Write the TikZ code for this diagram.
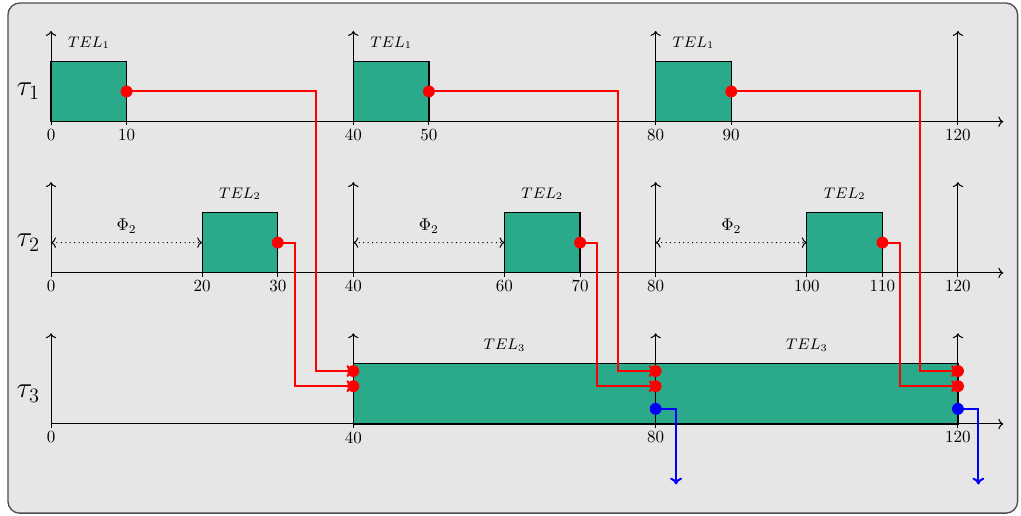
\documentclass[tikz,border=0pt]{standalone}
\usepackage{amsmath}
\usetikzlibrary{positioning, calc, arrows.meta}
\definecolor{bgFrame}{HTML}{E6E6E6}
\definecolor{borderFrame}{HTML}{4D4D4D}
\definecolor{bgTel}{HTML}{2AAA8A}
\definecolor{flowRed}{HTML}{FF0000}
\definecolor{flowBlue}{HTML}{0000FF}
\tikzset{
  frame/.style={draw=borderFrame, fill=bgFrame, rounded corners=7pt, line width=0.8pt},
  axis/.style={->, line width=0.6pt, color=black},
  telbox/.style={draw=black, fill=bgTel, line width=0.7pt, inner sep=0pt, outer sep=0pt,
    anchor=south west, minimum height=1.25cm},
  tellabel/.style={font=\small, inner sep=0pt},
  ticklabel/.style={font=\normalsize, below, inner sep=2pt},
  offset/.style={<->, dotted, line width=0.6pt},
  redflow/.style={-{To[length=4pt, width=7pt]}, line width=1.2pt, color=flowRed},
  blueflow/.style={-{To[length=4pt, width=7pt]}, line width=1.2pt, color=flowBlue},
  reddot/.style={circle, fill=flowRed, inner sep=0pt, minimum size=7pt},
  bluedot/.style={circle, fill=flowBlue, inner sep=0pt, minimum size=7pt},
  tasklabel/.style={font=\LARGE},
}

\begin{document}
\begin{tikzpicture}[x=0.1563cm, y=0.1563cm]

  % === Frame ===
  \useasboundingbox (-6.75,-12.17) rectangle (128.34,56.1);
  \draw[frame] (-5.7,-11.8) rectangle (127.9,55.7);

  % === Task tau_1 ===
  \node[tasklabel] (task1) at (-3,44) {$\tau_1$};
  \node[telbox, minimum width=1.563cm] (tel1a) at (0,40) {};
  \node[telbox, minimum width=1.563cm] (tel1b) at (40,40) {};
  \node[telbox, minimum width=1.563cm] (tel1c) at (80,40) {};
  \node[tellabel, above=2.5mm of tel1a.north] (lab1a) {$TEL_1$};
  \node[tellabel, above=2.5mm of tel1b.north] (lab1b) {$TEL_1$};
  \node[tellabel, above=2.5mm of tel1c.north] (lab1c) {$TEL_1$};
  \draw[axis] (0,40) -- (126,40);
  \foreach \x in {0,40,80,120} \draw[axis] (\x,39.5) -- (\x,52);
  \foreach \x in {10,50,90} \draw[line width=0.6pt] (\x,40) -- (\x,39.5);
  \foreach \x in {0,10,40,50,80,90,120} \node[ticklabel] (tick1-\x) at (\x,39.5) {\x};

  % === Task tau_2 ===
  \node[tasklabel] (task2) at (-3,24) {$\tau_2$};
  \node[telbox, minimum width=1.563cm] (tel2a) at (20,20) {};
  \node[telbox, minimum width=1.563cm] (tel2b) at (60,20) {};
  \node[telbox, minimum width=1.563cm] (tel2c) at (100,20) {};
  \node[tellabel, above=2.5mm of tel2a.north] (lab2a) {$TEL_2$};
  \node[tellabel, above=2.5mm of tel2b.north] (lab2b) {$TEL_2$};
  \node[tellabel, above=2.5mm of tel2c.north] (lab2c) {$TEL_2$};
  \draw[axis] (0,20) -- (126,20);
  \foreach \x in {0,40,80,120} \draw[axis] (\x,19.5) -- (\x,32);
  \foreach \x in {20,30,60,70,100,110} \draw[line width=0.6pt] (\x,20) -- (\x,19.5);
  \foreach \x in {0,20,30,40,60,70,80,100,110,120} \node[ticklabel] (tick2-\x) at (\x,19.5) {\x};

  % offsets Phi_2
  \coordinate (rel2a) at (0,24);
  \coordinate (rel2b) at (40,24);
  \coordinate (rel2c) at (80,24);
  \draw[offset] (rel2a) -- (tel2a.west) node[midway, above=2pt] (phi2a) {$\Phi_2$};
  \draw[offset] (rel2b) -- (tel2b.west) node[midway, above=2pt] (phi2b) {$\Phi_2$};
  \draw[offset] (rel2c) -- (tel2c.west) node[midway, above=2pt] (phi2c) {$\Phi_2$};

  % === Task tau_3 ===
  \node[tasklabel] (task3) at (-3,4) {$\tau_3$};
  \node[telbox, minimum width=6.252cm] (tel3a) at (40,0) {};
  \node[telbox, minimum width=6.252cm] (tel3b) at (80,0) {};
  \node[tellabel, above=2.5mm of tel3a.north] (lab3a) {$TEL_3$};
  \node[tellabel, above=2.5mm of tel3b.north] (lab3b) {$TEL_3$};
  \draw[axis] (0,0) -- (126,0);
  \foreach \x in {0,40,80,120} \draw[axis] (\x,-0.5) -- (\x,12);
  \foreach \x in {0,40,80,120} \node[ticklabel] (tick3-\x) at (\x,-0.5) {\x};

  % inputs / outputs of tau_3
  \coordinate (in3a1) at (40,7);
  \coordinate (in3a2) at (40,5);
  \coordinate (in3b1) at (80,7);
  \coordinate (in3b2) at (80,5);
  \coordinate (in3c1) at (120,7);
  \coordinate (in3c2) at (120,5);
  \coordinate (out3a) at (80,2);
  \coordinate (out3b) at (120,2);
  \coordinate (sink3a) at (82.7,-8);
  \coordinate (sink3b) at (122.7,-8);

  % === Data flow: tau_1 -> tau_3 ===
  \draw[redflow] (tel1a.east) -| ($(in3a1)+(-5,0)$) -- (in3a1);
  \draw[redflow] (tel1b.east) -| ($(in3b1)+(-5,0)$) -- (in3b1);
  \draw[redflow] (tel1c.east) -| ($(in3c1)+(-5,0)$) -- (in3c1);

  % === Data flow: tau_2 -> tau_3 ===
  \draw[redflow] (tel2a.east) -| ($(in3a2)+(-7.7,0)$) -- (in3a2);
  \draw[redflow] (tel2b.east) -| ($(in3b2)+(-7.7,0)$) -- (in3b2);
  \draw[redflow] (tel2c.east) -| ($(in3c2)+(-7.7,0)$) -- (in3c2);

  % === Outputs of tau_3 ===
  \draw[blueflow] (out3a) -| (sink3a);
  \draw[blueflow] (out3b) -| (sink3b);

  % === Dots ===
  \node[reddot] (src1a) at (tel1a.east) {};
  \node[reddot] (src1b) at (tel1b.east) {};
  \node[reddot] (src1c) at (tel1c.east) {};
  \node[reddot] (src2a) at (tel2a.east) {};
  \node[reddot] (src2b) at (tel2b.east) {};
  \node[reddot] (src2c) at (tel2c.east) {};
  \node[reddot] (dst3a1) at (in3a1) {};
  \node[reddot] (dst3a2) at (in3a2) {};
  \node[reddot] (dst3b1) at (in3b1) {};
  \node[reddot] (dst3b2) at (in3b2) {};
  \node[reddot] (dst3c1) at (in3c1) {};
  \node[reddot] (dst3c2) at (in3c2) {};
  \node[bluedot] (src3a) at (out3a) {};
  \node[bluedot] (src3b) at (out3b) {};

\end{tikzpicture}
\end{document}
